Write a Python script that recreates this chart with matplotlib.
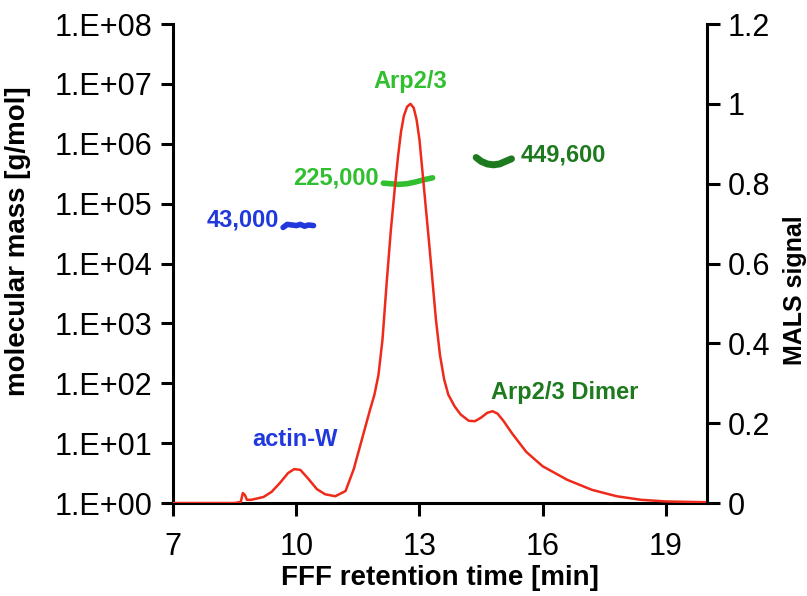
import numpy as np
import matplotlib
matplotlib.use("Agg")
import matplotlib.pyplot as plt
from matplotlib.ticker import FixedLocator, FuncFormatter, NullLocator

plt.rcParams['font.family'] = ['Liberation Sans', 'DejaVu Sans']

# MALS signal (right axis)
mals_t = [7.0, 8.5, 8.65, 8.7, 8.75, 8.8, 8.9, 9.2, 9.4, 9.6, 9.8, 9.95, 10.1,
          10.3, 10.5, 10.7, 10.95, 11.2, 11.4, 11.6, 11.8, 11.9, 12.0, 12.1,
          12.2, 12.3, 12.4, 12.48, 12.55, 12.62, 12.7, 12.78, 12.86, 12.93,
          13.0, 13.1, 13.25, 13.4, 13.5, 13.6, 13.7, 13.85, 14.0, 14.2, 14.35,
          14.5, 14.65, 14.78, 14.9, 15.05, 15.25, 15.6, 16.0, 16.6, 17.2, 17.8,
          18.4, 19.0, 20.0]
mals_v = [0.0, 0.0, 0.003, 0.025, 0.02, 0.008, 0.008, 0.015, 0.028, 0.05, 0.075,
          0.085, 0.083, 0.06, 0.035, 0.022, 0.017, 0.03, 0.085, 0.16, 0.235,
          0.27, 0.32, 0.41, 0.55, 0.68, 0.79, 0.87, 0.93, 0.97, 0.993, 1.0, 0.99,
          0.96, 0.91, 0.80, 0.634, 0.46, 0.37, 0.31, 0.272, 0.243, 0.222, 0.206,
          0.205, 0.214, 0.226, 0.23, 0.224, 0.205, 0.175, 0.128, 0.092, 0.058,
          0.033, 0.017, 0.008, 0.004, 0.002]

# molar mass segments (left axis)
actin_t = [9.68, 9.78, 9.9, 10.0, 10.1, 10.2, 10.3, 10.42]
actin_m = [4.0e4, 4.5e4, 4.4e4, 4.3e4, 4.5e4, 4.2e4, 4.4e4, 4.3e4]
arp_t = [12.12, 12.3, 12.5, 12.7, 12.9, 13.1, 13.32]
arp_m = [2.2e5, 2.15e5, 2.1e5, 2.15e5, 2.3e5, 2.5e5, 2.7e5]
dimer_t = [14.38, 14.5, 14.65, 14.8, 14.95, 15.1, 15.24]
dimer_m = [5.9e5, 5.1e5, 4.6e5, 4.45e5, 4.6e5, 5.1e5, 5.6e5]

BLUE = '#2038dc'
LGREEN = '#2fbf2f'
DGREEN = '#1e7a1e'
RED = '#ee2a1a'

fig = plt.figure(figsize=(8.07, 5.96), dpi=100)
ax = fig.add_axes([0.2144, 0.156, 0.8761 - 0.2144, 0.9597 - 0.156])
ax2 = ax.twinx()

ax.plot(actin_t, actin_m, color=BLUE, lw=4, solid_capstyle='round')
ax.plot(arp_t, arp_m, color=LGREEN, lw=4, solid_capstyle='round')
ax.plot(dimer_t, dimer_m, color=DGREEN, lw=5, solid_capstyle='round')
ax2.plot(mals_t, mals_v, color=RED, lw=1.8)

ax.set_yscale('log')
ax.set_ylim(1, 1e8)
ax.set_xlim(7, 20)
ax2.set_ylim(0, 1.2)

ax.yaxis.set_major_locator(FixedLocator([10.0 ** k for k in range(9)]))
ax.yaxis.set_minor_locator(NullLocator())
ax.yaxis.set_major_formatter(FuncFormatter(lambda v, p: f"1.E+{int(round(np.log10(v))):02d}"))
ax.set_xticks([7, 10, 13, 16, 19])
ax2.set_yticks([0, 0.2, 0.4, 0.6, 0.8, 1.0, 1.2])
ax2.set_yticklabels(['0', '0.2', '0.4', '0.6', '0.8', '1', '1.2'])

for a in (ax, ax2):
    a.spines['top'].set_visible(False)
    for s in a.spines.values():
        s.set_linewidth(2.2)
    a.tick_params(labelsize=22, width=2.2, length=9, direction='out', pad=6)
ax.tick_params(axis='x', pad=12)
ax.spines['right'].set_visible(False)
ax2.spines['left'].set_visible(False)
ax2.spines['bottom'].set_visible(False)

ax.set_xlabel('FFF retention time [min]', fontsize=20, fontweight='bold', labelpad=2)
fig.text(0.022, 0.595, 'molecular mass [g/mol]', rotation=90, fontsize=20,
         fontweight='bold', ha='center', va='center')
fig.text(0.985, 0.513, 'MALS signal', rotation=90, fontsize=18,
         fontweight='bold', ha='center', va='center')

kw = dict(fontsize=17, fontweight='bold', va='center')
ax2.text(12.78, 1.055, 'Arp2/3', color=LGREEN, ha='center', **kw)
ax2.text(12.0, 0.814, '225,000', color=LGREEN, ha='right', **kw)
ax2.text(9.57, 0.709, '43,000', color=BLUE, ha='right', **kw)
ax2.text(15.46, 0.872, '449,600', color=DGREEN, ha='left', **kw)
ax2.text(9.97, 0.158, 'actin-W', color=BLUE, ha='center', **kw)
ax2.text(16.53, 0.276, 'Arp2/3 Dimer', color=DGREEN, ha='center', **kw)

fig.savefig('out.png', dpi=100)
